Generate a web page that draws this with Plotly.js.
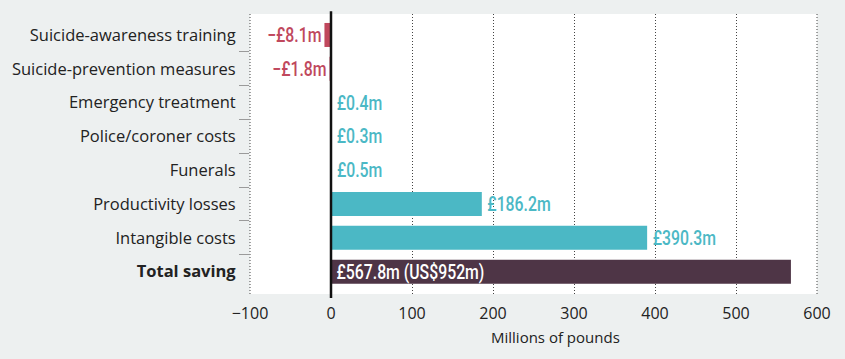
<!DOCTYPE html>
<html>
<head>
<meta charset="utf-8">
<script src="https://cdn.plot.ly/plotly-3.0.1.min.js"></script>
<style>html,body{margin:0;padding:0;background:#edf0f0;}#chart{width:845px;height:359px;}</style>
</head>
<body>
<div id="chart"></div>
<script>
const categories = ["Suicide-awareness training","Suicide-prevention measures","Emergency treatment","Police/coroner costs","Funerals","Productivity losses","Intangible costs","Total saving"];
const values = [-8.1, -1.8, 0.4, 0.3, 0.5, 186.2, 390.3, 567.8];
const labels = ["\u2212£8.1m","\u2212£1.8m","£0.4m","£0.3m","£0.5m","£186.2m","£390.3m","£567.8m (US$952m)"];
const xTicks = [-100, 0, 100, 200, 300, 400, 500, 600];
const xTickText = ["\u2212100","0","100","200","300","400","500","600"];

const RED = "#c0485d", TEAL = "#4bb8c5", PURPLE = "#4e3546";
const LBL_FONT = "Roboto, sans-serif";
const CONDENSE = 0.79;
const last = values.length - 1;
const colors = values.map((v, i) => i === last ? PURPLE : (v < 0 ? RED : TEAL));
const textColors = values.map((v, i) => i === last ? "#ffffff" : (v < 0 ? RED : TEAL));
const idx = categories.map((_, i) => i);
const boundaries = idx.slice(0, -1).map(i => i + 0.5);
const yRange = [7.66, -0.62];

const trace = {
  type: "bar", orientation: "h",
  x: values, y: idx,
  width: 0.71,
  marker: {color: colors, line: {width: 0}},
  text: labels,
  textposition: values.map((v, i) => i === last ? "inside" : "outside"),
  insidetextanchor: "start",
  textfont: {family: LBL_FONT, size: 20, weight: 500, color: textColors},
  outsidetextfont: {family: LBL_FONT, size: 20, weight: 500, color: textColors},
  insidetextfont: {family: LBL_FONT, size: 20, weight: 500, color: "#ffffff"},
  constraintext: "none",
  cliponaxis: false,
  hoverinfo: "skip"
};

const layout = {
  width: 845, height: 359,
  margin: {l: 250, r: 28, t: 14, b: 65},
  paper_bgcolor: "#edf0f0",
  plot_bgcolor: "#ffffff",
  showlegend: false,
  font: {family: "Open Sans, sans-serif", size: 15, color: "#222222"},
  xaxis: {
    range: [-100, 600],
    tickvals: xTicks, ticktext: xTickText,
    showgrid: true, gridcolor: "#444444", griddash: "1px,2px", gridwidth: 1,
    zeroline: true, zerolinecolor: "#111111", zerolinewidth: 2.5,
    ticks: "", showline: false,
    ticklabelstandoff: 8,
    tickfont: {family: "Open Sans, sans-serif", size: 16, color: "#222222"},
    fixedrange: true
  },
  yaxis: {
    range: yRange,
    tickvals: idx,
    ticktext: categories.map((c, i) => i === last ? "<b>" + c + "</b>" : c),
    showgrid: false, zeroline: false, showline: false,
    ticks: "outside", ticklen: 10, tickcolor: "rgba(0,0,0,0)", tickwidth: 1,
    minor: {tickvals: boundaries, ticks: "outside", ticklen: 10, tickcolor: "#9a9a9a", tickwidth: 1, showgrid: false},
    tickfont: {family: "Open Sans, sans-serif", size: 16.5, color: "#222222"},
    fixedrange: true
  },
  shapes: [
    {type: "line", xref: "paper", yref: "paper", x0: 0, x1: 0, y0: 0, y1: 1, line: {color: "#444444", width: 1, dash: "1px,2px"}},
    {type: "line", xref: "paper", yref: "paper", x0: 1, x1: 1, y0: 0, y1: 1, line: {color: "#444444", width: 1, dash: "1px,2px"}},
    {type: "line", xref: "x", yref: "paper", x0: 0, x1: 0, y0: -0.014, y1: 1.01, line: {color: "#111111", width: 2.5}}
  ],
  annotations: [
    {text: "Millions of pounds", xref: "paper", yref: "paper", x: 0.538, y: 0, yshift: -43, showarrow: false,
     xanchor: "center", yanchor: "middle", font: {family: "Open Sans, sans-serif", size: 15, color: "#222222"}}
  ],
  bargap: 0.28
};

Plotly.newPlot("chart", [trace], layout, {displayModeBar: false, staticPlot: true}).then(gd => {
  const texts = gd.querySelectorAll("text.bartext");
  texts.forEach((t, k) => {
    const before = t.getBoundingClientRect();
    const w = t.getComputedTextLength();
    t.setAttribute("textLength", (w * CONDENSE).toFixed(2));
    t.setAttribute("lengthAdjust", "spacingAndGlyphs");
    const after = t.getBoundingClientRect();
    const v = values[k];
    const pad = (v < 0) ? 0 : 2.5;
    const dx = (v < 0) ? (before.right - after.right) : (before.left - after.left + pad);
    const x0 = parseFloat(t.getAttribute("x") || "0");
    t.setAttribute("x", (x0 + dx).toFixed(2));
  });
});
</script>
</body>
</html>
